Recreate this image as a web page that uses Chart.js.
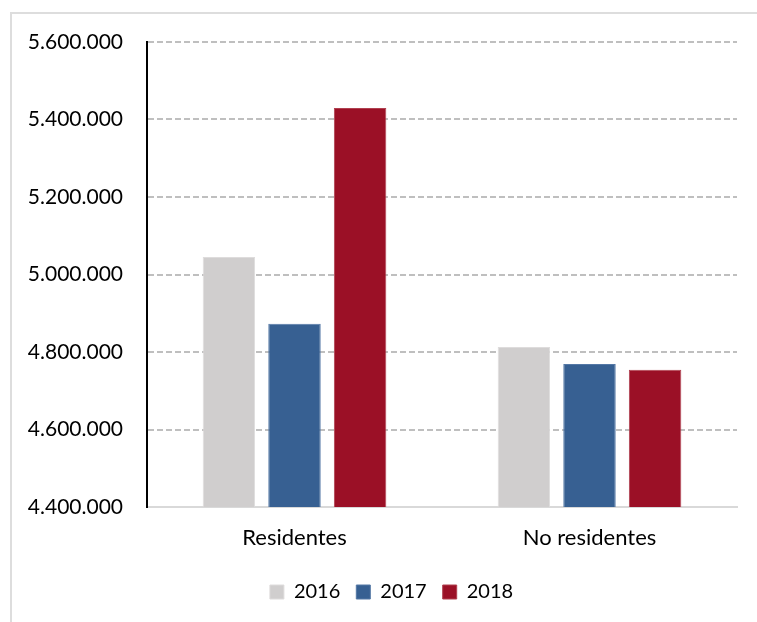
<!DOCTYPE html>
<html>
<head>
<meta charset="utf-8">
<script src="https://cdn.jsdelivr.net/npm/chart.js@4.4.1/dist/chart.umd.min.js"></script>
<style>
  html, body { margin: 0; padding: 0; background: #ffffff; overflow: hidden; }
  #frame { position: absolute; left: 10px; top: 12px; width: 760px; height: 620px;
           border-left: 2px solid #DDDDDD; border-top: 2px solid #DDDDDD; box-sizing: border-box; }
  #wrap { position: absolute; left: 0; top: 0; width: 757px; height: 622px; }
</style>
</head>
<body>
<div id="frame"></div>
<div id="wrap"><canvas id="c"></canvas></div>
<script>
const categories = ['Residentes', 'No residentes'];
const seriesLabels = ['2016', '2017', '2018'];
const values2016 = [5045000, 4813000];
const values2017 = [4873000, 4769000];
const values2018 = [5430000, 4754000];
const yTicks = [4400000, 4600000, 4800000, 5000000, 5200000, 5400000, 5600000];

const colors = ['#D0CECE', '#376092', '#9B1026'];
const borders = ['#DEDCDC', '#5478A6', '#B0404F'];
const FONT = 'Lato, "Open Sans", sans-serif';

function fmt(v) {
  return String(v).replace(/\B(?=(\d{3})+(?!\d))/g, '.');
}

const seriesValues = [values2016, values2017, values2018];
const datasets = seriesLabels.map((lab, i) => ({
  label: lab,
  data: seriesValues[i],
  backgroundColor: colors[i],
  borderColor: borders[i],
  borderWidth: 1,
  categoryPercentage: 0.667,
  barPercentage: 0.8
}));

new Chart(document.getElementById('c'), {
  type: 'bar',
  data: { labels: categories, datasets },
  options: {
    responsive: true,
    maintainAspectRatio: false,
    animation: false,
    layout: { padding: { left: 0, right: 20, top: 42, bottom: 10 } },
    plugins: {
      tooltip: { enabled: false },
      legend: {
        position: 'bottom',
        labels: {
          boxWidth: 14, boxHeight: 14, padding: 16,
          color: '#000000',
          font: { family: FONT, size: 20 }
        }
      }
    },
    scales: {
      x: {
        grid: { drawOnChartArea: false, drawTicks: false },
        border: { display: true, color: '#D9D9D9', width: 2 },
        ticks: { color: '#000000', padding: 18, font: { family: FONT, size: 22 } },
        afterFit: (s) => { s.height = 59; }
      },
      y: {
        min: yTicks[0],
        max: yTicks[yTicks.length - 1],
        afterBuildTicks: (s) => { s.ticks = yTicks.map(v => ({ value: v })); },
        grid: { color: '#BFBFBF', lineWidth: 2, drawTicks: false },
        border: { display: true, color: '#000000', width: 2, dash: [6, 3] },
        ticks: {
          color: '#000000', padding: 24,
          font: { family: FONT, size: 21 },
          callback: (v) => fmt(v)
        },
        afterFit: (s) => { s.width = 147; }
      }
    }
  },
  plugins: [{
    id: 'shiftLegend',
    afterLayout(chart) {
      const lg = chart.legend;
      if (lg) { lg.left += 23; lg.right += 23; }
    }
  }]
});
</script>
</body>
</html>
